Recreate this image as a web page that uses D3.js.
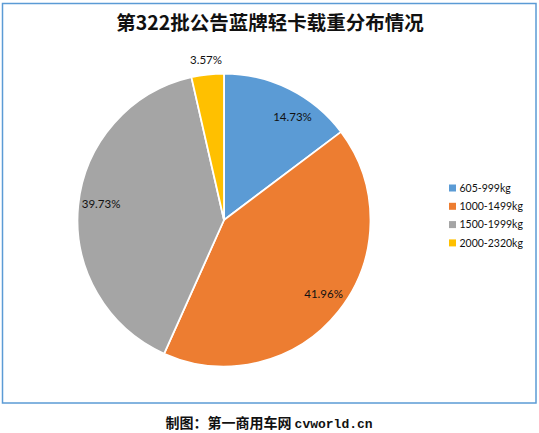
<!DOCTYPE html>
<html><head><meta charset="utf-8">
<script src="https://cdn.jsdelivr.net/npm/d3@7/dist/d3.min.js"></script>
<style>body{margin:0;background:#fff}svg{display:block}</style>
</head><body>
<script>
const categories = ["605-999kg","1000-1499kg","1500-1999kg","2000-2320kg"];
const values = [14.73, 41.96, 39.73, 3.57];
const colors = ["#5b9bd5","#ed7d31","#a5a5a5","#ffc000"];
const titleText = "第322批公告蓝牌轻卡载重分布情况";
const footerText = "制图：第一商用车网";
const footerSite = "cvworld.cn";

const W = 539, H = 433;
const svg = d3.select("body").append("svg").attr("width", W).attr("height", H);

svg.append("rect").attr("x",2.5).attr("y",3.5).attr("width",533.5).attr("height",399.5)
  .attr("fill","#fff").attr("stroke","#5b9bd5").attr("stroke-width",1.5);

svg.append("text").attr("x",270).attr("y",30).attr("text-anchor","middle")
  .attr("font-family","'Noto Sans CJK SC'").attr("font-weight","bold").attr("font-size",19.5)
  .attr("fill","#111").text(titleText);

const cx = 224, cy = 220, R = 146.5;
const pie = d3.pie().sort(null).value(d => d);
const arcs = pie(values);
const arc = d3.arc().innerRadius(0).outerRadius(R);
const g = svg.append("g").attr("transform", `translate(${cx},${cy})`);
g.selectAll("path").data(arcs).enter().append("path")
  .attr("d", arc).attr("fill", (d,i) => colors[i])
  .attr("stroke","#fff").attr("stroke-width",1.8).attr("stroke-linejoin","round");

// label layout: radius and angular nudge (layout only)
const labelR = [124, 124, 124, 161];
const labelNudge = [7, -2, 2, 0];
g.selectAll("text.lbl").data(arcs).enter().append("text").attr("class","lbl")
  .attr("transform", (d,i) => {
    const a = (d.startAngle + d.endAngle)/2 + labelNudge[i]*Math.PI/180;
    return `translate(${labelR[i]*Math.sin(a)},${-labelR[i]*Math.cos(a)})`;
  })
  .attr("text-anchor","middle").attr("dy","0.35em")
  .attr("font-family","Lato, 'Open Sans', sans-serif").attr("font-size",11.5)
  .attr("fill","#111").text(d => d.data.toFixed(2) + "%");

const leg = svg.append("g").attr("transform","translate(449,188)");
const rows = leg.selectAll("g").data(categories).enter().append("g")
  .attr("transform",(d,i)=>`translate(0,${i*18.3})`);
rows.append("rect").attr("x",0).attr("y",-3.5).attr("width",7).attr("height",7)
  .attr("fill",(d,i)=>colors[i]);
rows.append("text").attr("x",10.5).attr("dy","0.35em")
  .attr("font-family","Lato, 'Open Sans', sans-serif").attr("font-size",10.5)
  .attr("fill","#111").text(d=>d);

const ft = svg.append("text").attr("x",269).attr("y",428).attr("text-anchor","middle")
  .attr("font-weight","bold").attr("font-size",14).attr("fill","#111");
ft.append("tspan").attr("font-family","'Noto Sans CJK SC'").text(footerText + " ");
ft.append("tspan").attr("font-family","'Liberation Mono', monospace").attr("font-size",13).text(footerSite);
</script>
</body></html>
